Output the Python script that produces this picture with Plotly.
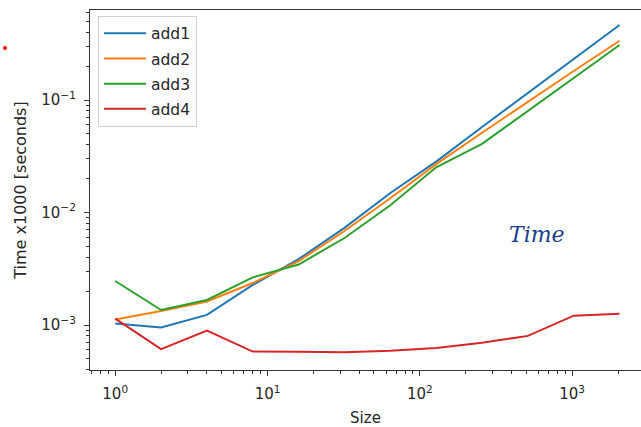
import plotly.graph_objects as go

sizes = [1, 2, 4, 8, 16, 32, 64, 128, 256, 512, 1024, 2048]
add1 = [1.03e-3, 0.95e-3, 1.23e-3, 2.27e-3, 3.85e-3, 7.3e-3, 1.49e-2, 2.83e-2, 5.75e-2, 0.116, 0.233, 0.464]
add2 = [1.12e-3, 1.33e-3, 1.62e-3, 2.36e-3, 3.7e-3, 6.85e-3, 1.34e-2, 2.69e-2, 5.12e-2, 0.0967, 0.181, 0.336]
add3 = [2.46e-3, 1.36e-3, 1.67e-3, 2.65e-3, 3.45e-3, 5.93e-3, 1.16e-2, 2.52e-2, 4.07e-2, 0.0798, 0.158, 0.308]
add4 = [1.14e-3, 6.1e-4, 8.9e-4, 5.8e-4, 5.78e-4, 5.72e-4, 5.9e-4, 6.25e-4, 6.95e-4, 8.0e-4, 1.21e-3, 1.26e-3]

series = [("add1", add1, "#1f77b4"), ("add2", add2, "#ff7f0e"),
          ("add3", add3, "#2ca02c"), ("add4", add4, "#d62728")]

x_major = [1, 10, 100, 1000]
x_major_text = ["10<sup>0</sup>", "10<sup>1</sup>", "10<sup>2</sup>", "10<sup>3</sup>"]
y_major = [1e-3, 1e-2, 1e-1]
y_major_text = ["10<sup>\u22123</sup>", "10<sup>\u22122</sup>", "10<sup>\u22121</sup>"]

x_minor = [m * 10 ** e for e in range(-1, 4) for m in range(2, 10)]
y_minor = [m * 10 ** e for e in range(-4, 0) for m in range(2, 10)]

fig = go.Figure()
for i, (name, vals, col) in enumerate(series):
    fig.add_trace(go.Scatter(x=sizes, y=vals, mode="lines", name=name,
                             legendgroup=name,
                             line=dict(color=col, width=2)))

tickfont = dict(family="DejaVu Sans", size=15, color="#262626")
xtitlefont = dict(family="DejaVu Sans", size=15, color="#262626")
ytitlefont = dict(family="DejaVu Sans", size=16, color="#262626")

fig.update_layout(
    width=641, height=427,
    margin=dict(l=90, r=0, t=10, b=57),
    paper_bgcolor="white", plot_bgcolor="white",
    font=tickfont,
    showlegend=True,
    legend=dict(x=0.0145, y=0.984, xanchor="left", yanchor="top",
                bgcolor="rgba(255,255,255,0.8)", bordercolor="#d0d0d0",
                borderwidth=1, font=dict(family="DejaVu Sans", size=15.5, color="#262626"),
                tracegroupgap=2, itemwidth=42),
    xaxis=dict(type="log", range=[-0.1656, 3.452], showgrid=False, zeroline=False,
               automargin=False,
               showline=True, linecolor="#333333", linewidth=1.3, mirror=True,
               ticks="outside", ticklen=5, tickcolor="#333333", tickfont=tickfont,
               tickvals=x_major, ticktext=x_major_text, ticklabelstandoff=5,
               minor=dict(tickvals=x_minor, ticks="outside", ticklen=3, tickcolor="#333333"),
               title=dict(text="Size", font=xtitlefont, standoff=10)),
    yaxis=dict(type="log", range=[-3.4, -0.2], showgrid=False, zeroline=False,
               automargin=False,
               showline=True, linecolor="#333333", linewidth=1.3, mirror=False,
               ticks="outside", ticklen=5, tickcolor="#333333", tickfont=tickfont,
               tickvals=y_major, ticktext=y_major_text, ticklabelstandoff=5,
               minor=dict(tickvals=y_minor, ticks="outside", ticklen=3, tickcolor="#333333"),
               title=dict(text="Time x1000 [seconds]", font=ytitlefont, standoff=10)),
)

fig.add_annotation(text="<i>Time</i>", xref="paper", yref="paper",
                   x=(537 - 90) / 551, y=(370 - 234) / 360, showarrow=False,
                   xanchor="center", yanchor="middle",
                   font=dict(family="DejaVu Serif", size=22, color="#1c3d8c"))

fig.add_shape(type="circle", xref="paper", yref="paper",
              xsizemode="pixel", ysizemode="pixel",
              xanchor=(5 - 90) / 551, yanchor=(370 - 48) / 360,
              x0=-2, x1=2, y0=-2, y1=2,
              fillcolor="red", line=dict(width=0))

fig.write_html("out.html", config={"displayModeBar": False},
               post_script="document.body.style.margin='0';document.body.style.overflow='hidden';")
